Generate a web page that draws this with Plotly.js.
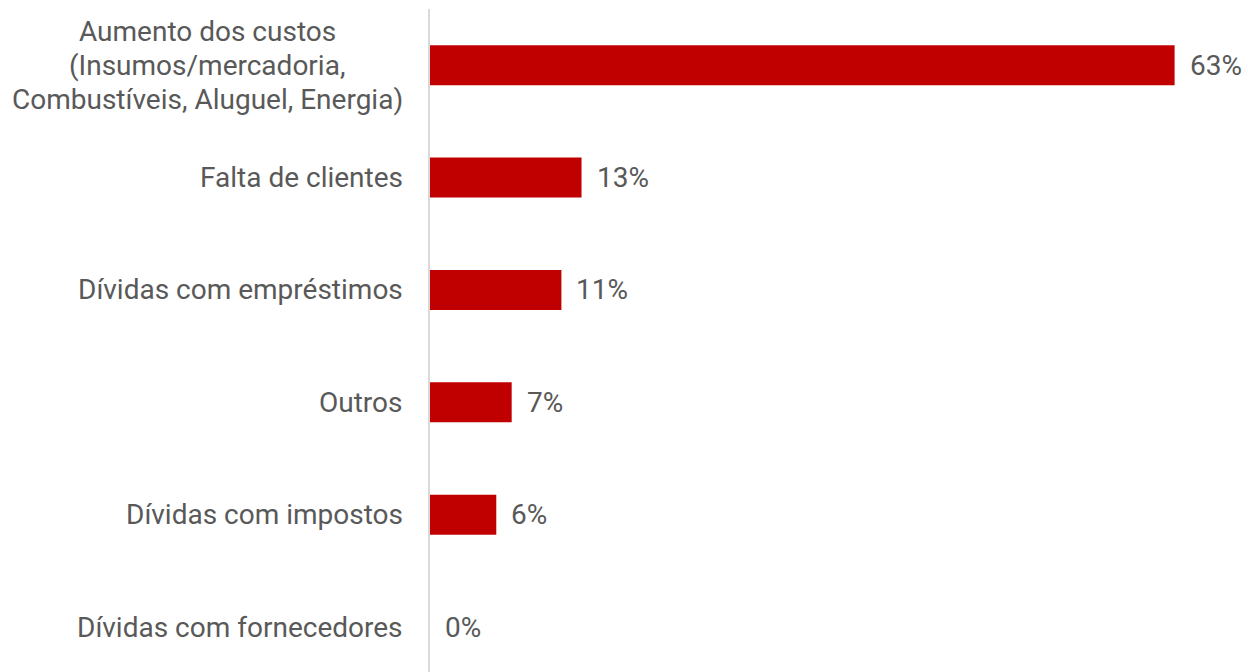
<!DOCTYPE html>
<html>
<head>
<meta charset="utf-8">
<script src="https://cdn.plot.ly/plotly-3.0.1.min.js"></script>
<style>html,body{margin:0;padding:0;background:#fff;}#chart{width:1248px;height:672px;}</style>
</head>
<body>
<div id="chart"></div>
<script>
const categories = [
  "Aumento dos custos<br>(Insumos/mercadoria,<br>Combustíveis, Aluguel, Energia)",
  "Falta de clientes",
  "Dívidas com empréstimos",
  "Outros",
  "Dívidas com impostos",
  "Dívidas com fornecedores"
];
const values = [62.9, 12.8, 11.1, 6.9, 5.6, 0];
const labels = ["63%", "13%", "11%", "7%", "6%", "0%"];

const textColor = "#595959";
const fontFamily = "Roboto, 'Noto Sans', sans-serif";
const fontSize = 28;
const lineGap = 34;

const trace = {
  type: "bar",
  orientation: "h",
  x: values,
  y: categories,
  marker: { color: "#C00000", line: { width: 0 } },
  width: 0.356,
  hoverinfo: "none"
};

const valueAnnotations = values.map((v, i) => ({
  x: v, y: categories[i], xref: "x", yref: "y",
  text: labels[i], showarrow: false, xanchor: "left", yanchor: "middle",
  xshift: 13,
  font: { family: fontFamily, size: fontSize, color: textColor }
}));

// category labels: each line centred horizontally over the widest line
const categoryAnnotations = [];
const measureCanvas = document.createElement("canvas").getContext("2d");
measureCanvas.font = fontSize + "px Roboto";
categories.forEach((c) => {
  const lines = c.split("<br>");
  const widths = lines.map((l) => measureCanvas.measureText(l).width);
  const maxW = Math.max.apply(null, widths);
  const mid = (lines.length - 1) / 2;
  lines.forEach((line, j) => {
    categoryAnnotations.push({
      x: 0, y: c, xref: "paper", yref: "y",
      text: line, showarrow: false, xanchor: "center", yanchor: "middle",
      xshift: -25 - maxW / 2 - 2,
      yshift: (mid - j) * lineGap,
      font: { family: fontFamily, size: fontSize, color: textColor }
    });
  });
});

const layout = {
  width: 1248, height: 672,
  margin: { l: 430, r: 0, t: 9, b: 0, pad: 0 },
  paper_bgcolor: "#fff", plot_bgcolor: "#fff",
  showlegend: false,
  font: { family: fontFamily, size: fontSize, color: textColor },
  xaxis: {
    range: [0, 69.1], showgrid: false, zeroline: false, showticklabels: false,
    showline: false, ticks: "", fixedrange: true
  },
  yaxis: {
    type: "category", range: [5.4, -0.5], showgrid: false, zeroline: false,
    showline: true, linecolor: "#d9d9d9", linewidth: 2,
    ticks: "", showticklabels: false,
    fixedrange: true
  },
  annotations: valueAnnotations.concat(categoryAnnotations)
};

Plotly.newPlot("chart", [trace], layout, { displayModeBar: false, staticPlot: true });
</script>
</body>
</html>
